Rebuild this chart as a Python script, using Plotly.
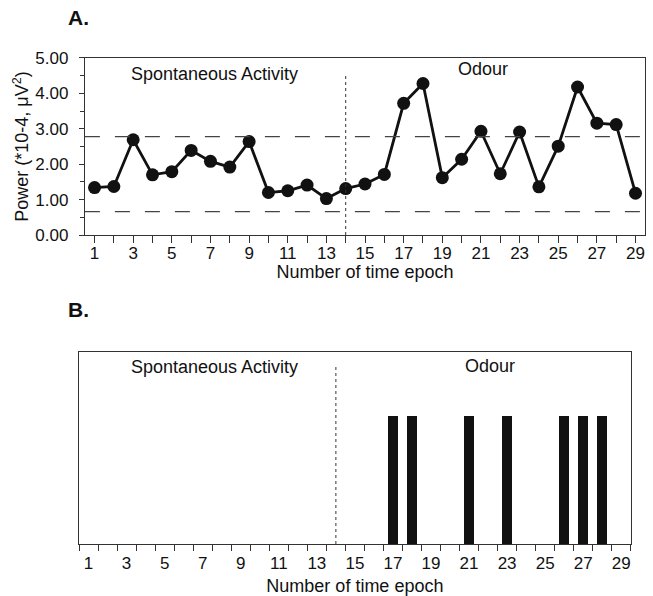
import plotly.graph_objects as go

epochs = list(range(1, 30))
power = [1.34, 1.37, 2.69, 1.70, 1.79, 2.39, 2.08, 1.92, 2.64, 1.20,
         1.25, 1.41, 1.03, 1.31, 1.44, 1.71, 3.72, 4.28, 1.62, 2.14,
         2.93, 1.73, 2.91, 1.36, 2.51, 4.18, 3.16, 3.12, 1.18]
upper_threshold = 2.78
lower_threshold = 0.66
odour_onset = 14
sig_epochs = [17, 18, 21, 23, 26, 27, 28]
sig_values = [1, 1, 1, 1, 1, 1, 1]
odd_ticks = list(range(1, 30, 2))
y_ticks = [0, 1, 2, 3, 4, 5]
y_tick_text = ["0.00", "1.00", "2.00", "3.00", "4.00", "5.00"]

FONT = "Liberation Sans, Arial, sans-serif"
INK = "#111111"

fig = go.Figure()

# Panel A line
fig.add_trace(go.Scatter(
    x=epochs, y=power, mode="lines+markers",
    line=dict(color=INK, width=2.8),
    marker=dict(color=INK, size=13),
    xaxis="x", yaxis="y", showlegend=False, hoverinfo="x+y"))

# thresholds
for thr in (upper_threshold, lower_threshold):
    fig.add_trace(go.Scatter(
        x=[0.5, 29.5], y=[thr, thr], mode="lines",
        line=dict(color="#444444", width=1.2, dash="longdash"),
        xaxis="x", yaxis="y", showlegend=False, hoverinfo="skip"))

# dashed onset line A
fig.add_trace(go.Scatter(
    x=[odour_onset, odour_onset], y=[0, 4.52], mode="lines",
    line=dict(color="#333333", width=1, dash="dot"),
    xaxis="x", yaxis="y", showlegend=False, hoverinfo="skip"))

# Panel B bars
fig.add_trace(go.Bar(
    x=sig_epochs, y=sig_values, width=0.55,
    marker=dict(color=INK, line=dict(width=0)),
    xaxis="x2", yaxis="y2", showlegend=False))

fig.add_trace(go.Scatter(
    x=[odour_onset, odour_onset], y=[0, 1.4], mode="lines",
    line=dict(color="#333333", width=1, dash="dot"),
    xaxis="x2", yaxis="y2", showlegend=False, hoverinfo="skip"))

axis_common = dict(showgrid=False, zeroline=False, mirror=True, showline=True,
                   linecolor="#333333", linewidth=1.2, automargin=False,
                   tickfont=dict(family=FONT, size=17, color=INK),
                   tickcolor="#333333")

fig.update_layout(
    width=653, height=596,
    margin=dict(l=0, r=0, t=0, b=0),
    paper_bgcolor="white", plot_bgcolor="white",
    font=dict(family=FONT, color=INK),
    bargap=0,
    xaxis=dict(axis_common, domain=[0.130, 0.988], anchor="y",
               range=[0.5, 29.5], tickvals=odd_ticks, ticks="outside", ticklen=7,
               ticklabelstandoff=-5,
               minor=dict(tickvals=epochs, ticks="outside", ticklen=7, tickcolor="#333333"),
               title=dict(text="Number of time epoch", font=dict(family=FONT, size=18, color=INK), standoff=2)),
    yaxis=dict(axis_common, domain=[0.6057, 0.9027], anchor="x",
               range=[0, 5], tickvals=y_ticks, ticktext=y_tick_text, ticks="outside", ticklen=5,
               minor=dict(dtick=0.5, ticks="outside", ticklen=4, tickcolor="#333333"),
               ticklabelstandoff=7,
               title=dict(text="Power (*10-4, μV<sup>2</sup>)", font=dict(family=FONT, size=18, color=INK), standoff=1)),
    xaxis2=dict(axis_common, domain=[0.121, 0.966], anchor="y2",
                range=[0.5, 29.5], tickvals=odd_ticks, ticks="", ticklabelstandoff=3,
                minor=dict(tickvals=[e + 0.5 for e in range(0, 30)], ticks="outside", ticklen=6, tickcolor="#333333"),
                title=dict(text="Number of time epoch", font=dict(family=FONT, size=18, color=INK), standoff=7)),
    yaxis2=dict(axis_common, domain=[0.0872, 0.4094], anchor="x2",
                range=[0, 1.5], showticklabels=False, ticks=""),
    annotations=[
        dict(text="<b>A.</b>", x=0.101, y=0.97, xref="paper", yref="paper", showarrow=False,
             yanchor="middle", font=dict(family=FONT, size=21, color=INK)),
        dict(text="<b>B.</b>", x=0.101, y=0.48, xref="paper", yref="paper", showarrow=False,
             yanchor="middle", font=dict(family=FONT, size=21, color=INK)),
        dict(text="Spontaneous Activity", x=7.2, y=4.55, xref="x", yref="y", showarrow=False,
             font=dict(family=FONT, size=18, color=INK)),
        dict(text="Odour", x=21.1, y=4.7, xref="x", yref="y", showarrow=False,
             font=dict(family=FONT, size=18, color=INK)),
        dict(text="Spontaneous Activity", x=7.6, y=1.38, xref="x2", yref="y2", showarrow=False,
             font=dict(family=FONT, size=18, color=INK)),
        dict(text="Odour", x=22.1, y=1.39, xref="x2", yref="y2", showarrow=False,
             font=dict(family=FONT, size=18, color=INK)),
    ],
)

fig.write_html("out.html")
